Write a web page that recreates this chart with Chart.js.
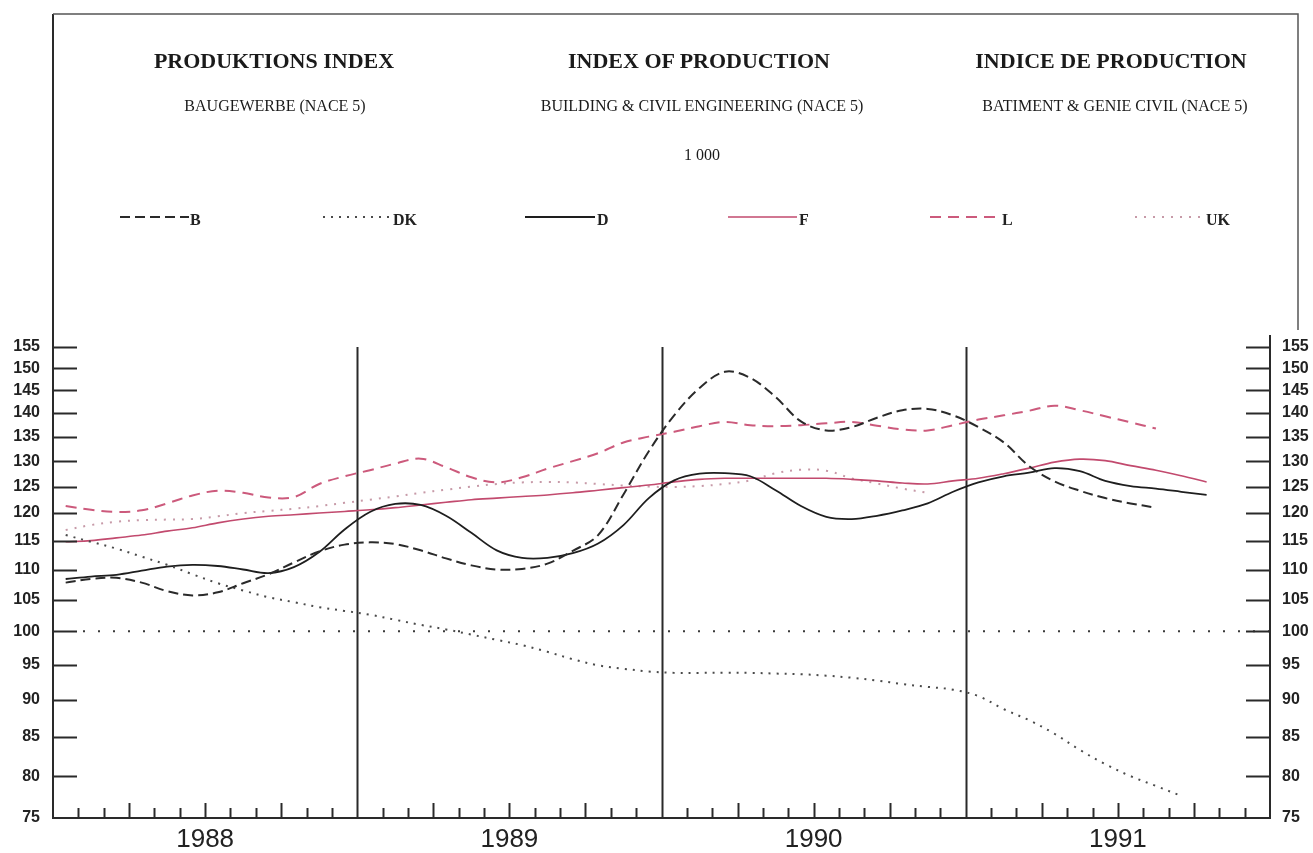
<!DOCTYPE html>
<html>
<head>
<meta charset="utf-8">
<script src="https://cdn.jsdelivr.net/npm/chart.js@4.4.1/dist/chart.umd.min.js"></script>
<style>
html,body{margin:0;padding:0;background:#fff;}
#wrap{position:relative;width:1313px;height:853px;overflow:hidden;background:#fff;}
#c{position:absolute;left:0;top:0;}
.t{position:absolute;width:600px;text-align:center;white-space:nowrap;color:#1a1a1a;}
.title{font-family:"Liberation Serif",serif;font-weight:bold;font-size:22px;line-height:22px;}
.sub{font-family:"Liberation Serif",serif;font-size:16px;line-height:16px;}
.leg{position:absolute;font-family:"Liberation Serif",serif;font-weight:bold;font-size:16px;line-height:16px;color:#222;white-space:nowrap;}
</style>
</head>
<body>
<div id="wrap">
<canvas id="c" width="1313" height="853"></canvas>
<div class="t title" style="left:-26px;top:50px;">PRODUKTIONS INDEX</div>
<div class="t title" style="left:399px;top:50px;">INDEX OF PRODUCTION</div>
<div class="t title" style="left:811px;top:50px;">INDICE DE PRODUCTION</div>
<div class="t sub" style="left:-25px;top:98px;">BAUGEWERBE (NACE 5)</div>
<div class="t sub" style="left:402px;top:98px;">BUILDING &amp; CIVIL ENGINEERING (NACE 5)</div>
<div class="t sub" style="left:815px;top:98px;">BATIMENT &amp; GENIE CIVIL (NACE 5)</div>
<div class="t sub" style="left:402px;top:147px;">1 000</div>
<div id="legend"></div>
</div>
<script>
// ---- data (monthly, Jan 1988 .. Dec 1991) ----
const YEARS = ['1988', '1989', '1990', '1991'];
const Y_TICKS = [75, 80, 85, 90, 95, 100, 105, 110, 115, 120, 125, 130, 135, 140, 145, 150, 155];
const SERIES_NAMES = ['B', 'DK', 'D', 'F', 'L', 'UK'];

const B_VALUES = [107.8, 108.4, 108.6, 107.8, 106.4, 105.7, 106.2, 107.7, 109.2, 111.2, 113.1, 114.3,
  114.7, 114.4, 113.3, 111.9, 110.7, 110.0, 110.1, 111.0, 113.2, 116.0, 123.5, 132.0,
  139.5, 145.5, 149.2, 147.8, 143.5, 138.2, 136.3, 137.0, 139.0, 140.6, 140.9, 139.5,
  137.0, 133.8, 129.0, 126.0, 124.2, 122.8, 121.8, 121.0];

const DK_VALUES = [116.0, 114.8, 113.6, 112.2, 110.8, 109.2, 107.7, 106.5, 105.4, 104.6, 103.8, 103.2,
  102.6, 101.8, 101.0, 100.3, 99.5, 98.7, 97.9, 96.9, 95.8, 94.9, 94.4, 94.0,
  93.8, 93.8, 93.8, 93.8, 93.7, 93.6, 93.4, 93.1, 92.7, 92.2, 91.8, 91.4,
  90.5, 88.7, 87.2, 85.4, 83.3, 81.5, 80.0, 78.8, 77.6];

const D_VALUES = [108.4, 108.8, 109.1, 109.8, 110.5, 110.8, 110.6, 110.0, 109.4, 110.4, 113.0, 117.0,
  120.2, 121.7, 121.5, 119.5, 116.4, 113.3, 112.0, 112.0, 112.8, 114.5, 117.8, 122.8,
  126.2, 127.5, 127.6, 127.0, 124.3, 121.3, 119.3, 118.9, 119.5, 120.5, 121.8, 124.0,
  125.8, 127.0, 127.7, 128.6, 128.0, 126.1, 125.1, 124.6, 124.0, 123.4];

const F_VALUES = [114.8, 115.0, 115.5, 116.0, 116.7, 117.3, 118.2, 118.9, 119.4, 119.7, 120.0, 120.3,
  120.6, 121.0, 121.5, 122.0, 122.5, 122.8, 123.1, 123.4, 123.8, 124.3, 124.8, 125.3,
  125.9, 126.4, 126.6, 126.6, 126.6, 126.6, 126.6, 126.4, 126.1, 125.7, 125.5, 126.1,
  126.6, 127.5, 128.6, 129.8, 130.4, 130.1, 129.1, 128.2, 127.1, 125.9];

const L_VALUES = [121.3, 120.6, 120.2, 120.5, 121.8, 123.3, 124.2, 123.8, 122.9, 123.0, 125.5, 127.0,
  128.2, 129.5, 130.5, 128.8, 126.8, 125.8, 126.8, 128.5, 130.0, 131.6, 133.8, 135.0,
  136.0, 137.2, 138.1, 137.4, 137.2, 137.4, 137.8, 138.1, 137.3, 136.5, 136.3, 137.4,
  138.6, 139.5, 140.5, 141.6, 140.6, 139.3, 138.0, 136.7];

const UK_VALUES = [116.9, 117.8, 118.4, 118.7, 118.8, 118.9, 119.4, 120.0, 120.4, 120.8, 121.3, 121.9,
  122.5, 123.1, 123.8, 124.4, 125.0, 125.5, 125.8, 125.9, 125.8, 125.5, 125.2, 125.0,
  124.9, 125.1, 125.5, 126.2, 127.6, 128.3, 128.1, 126.6, 125.6, 124.6, 123.8];

const REFERENCE_VALUE = 100;

// ---- helpers ----
const toPoints = arr => arr.map((v, i) => ({ x: i + 0.5, y: v }));

const STYLES = {
  B:  { color: '#2a2a2a', width: 2,   dash: [10, 5] },
  DK: { color: '#4a4a4a', width: 2,   dash: [2, 6] },
  D:  { color: '#1e1e1e', width: 1.8, dash: [] },
  F:  { color: '#c24a6e', width: 1.6, dash: [] },
  L:  { color: '#cc5a7c', width: 2,   dash: [11, 7] },
  UK: { color: '#c79aa8', width: 2,   dash: [2, 7] }
};
const SERIES_VALUES = { B: B_VALUES, DK: DK_VALUES, D: D_VALUES, F: F_VALUES, L: L_VALUES, UK: UK_VALUES };

const datasets = SERIES_NAMES.map(name => ({
  label: name,
  data: toPoints(SERIES_VALUES[name]),
  borderColor: STYLES[name].color,
  borderWidth: STYLES[name].width,
  borderDash: STYLES[name].dash,
  fill: false,
  pointRadius: 0,
  tension: 0.35,
  yAxisID: 'y'
}));

// legend layout (sample line start/end, label x)
const LEGEND_LAYOUT = [
  { x1: 120, x2: 189, lx: 190 },
  { x1: 323, x2: 391, lx: 393 },
  { x1: 525, x2: 595, lx: 597 },
  { x1: 728, x2: 797, lx: 799 },
  { x1: 930, x2: 1000, lx: 1002 },
  { x1: 1135, x2: 1204, lx: 1206 }
];
const LEGEND_Y = 217;

const legendDiv = document.getElementById('legend');
SERIES_NAMES.forEach((n, i) => {
  const s = document.createElement('div');
  s.className = 'leg';
  s.style.left = LEGEND_LAYOUT[i].lx + 'px';
  s.style.top = (LEGEND_Y - 5) + 'px';
  s.textContent = n;
  legendDiv.appendChild(s);
});

const framePlugin = {
  id: 'framePlugin',
  beforeDatasetsDraw(chart) {
    const { ctx, chartArea: a, scales } = chart;
    const y = scales.y, x = scales.x;
    ctx.save();
    // 100 reference dotted line
    const y100 = y.getPixelForValue(REFERENCE_VALUE);
    ctx.strokeStyle = '#3a3a3a';
    ctx.lineWidth = 2;
    ctx.setLineDash([2, 13]);
    ctx.beginPath();
    ctx.moveTo(a.left + 30, y100);
    ctx.lineTo(a.right, y100);
    ctx.stroke();
    ctx.setLineDash([]);
    // year separators
    ctx.strokeStyle = '#2a2a2a';
    ctx.lineWidth = 2;
    [12, 24, 36].forEach(m => {
      const px = Math.round(x.getPixelForValue(m)) + 0.5;
      ctx.beginPath();
      ctx.moveTo(px, a.top);
      ctx.lineTo(px, a.bottom);
      ctx.stroke();
    });
    ctx.restore();
  },
  afterDraw(chart) {
    const { ctx, chartArea: a, scales } = chart;
    const y = scales.y, x = scales.x;
    ctx.save();
    ctx.strokeStyle = '#2a2a2a';
    ctx.lineWidth = 2;
    // frame / axes
    ctx.beginPath();
    ctx.moveTo(a.left, 14);
    ctx.lineTo(a.left, a.bottom);
    ctx.lineTo(a.right, a.bottom);
    ctx.lineTo(a.right, 335);
    ctx.stroke();
    ctx.lineWidth = 1.5;
    ctx.strokeStyle = '#555';
    ctx.beginPath();
    ctx.moveTo(a.left, 14);
    ctx.lineTo(1298, 14);
    ctx.lineTo(1298, 330);
    ctx.stroke();
    // y ticks (inward)
    ctx.strokeStyle = '#2a2a2a';
    ctx.lineWidth = 2;
    Y_TICKS.forEach(v => {
      if (v === 75) return;
      const py = Math.round(y.getPixelForValue(v)) + 0.5;
      ctx.beginPath();
      ctx.moveTo(a.left, py); ctx.lineTo(a.left + 24, py);
      ctx.moveTo(a.right - 24, py); ctx.lineTo(a.right, py);
      ctx.stroke();
    });
    // month ticks (inward)
    for (let m = 1; m < 48; m++) {
      if (m % 12 === 0) continue;
      const px = Math.round(x.getPixelForValue(m)) + 0.5;
      const len = (m % 3 === 0) ? 15 : 10;
      ctx.beginPath();
      ctx.moveTo(px, a.bottom); ctx.lineTo(px, a.bottom - len);
      ctx.stroke();
    }
    // legend samples
    chart.data.datasets.forEach((ds, i) => {
      const L = LEGEND_LAYOUT[i];
      ctx.strokeStyle = ds.borderColor;
      ctx.lineWidth = ds.borderWidth;
      ctx.setLineDash(ds.borderDash || []);
      ctx.beginPath();
      ctx.moveTo(L.x1, LEGEND_Y); ctx.lineTo(L.x2, LEGEND_Y);
      ctx.stroke();
    });
    ctx.restore();
  }
};

const tickFont = { family: 'Liberation Sans', size: 16, weight: 'bold' };

new Chart(document.getElementById('c'), {
  type: 'line',
  data: { datasets },
  options: {
    responsive: false,
    animation: false,
    devicePixelRatio: 1,
    layout: { padding: { top: 347, left: 0, right: 0, bottom: 0 } },
    plugins: { legend: { display: false }, tooltip: { enabled: false }, title: { display: false } },
    scales: {
      x: {
        type: 'linear', min: 0, max: 48,
        afterBuildTicks(s) { s.ticks = [6, 18, 30, 42].map(v => ({ value: v })); },
        afterFit(s) { s.height = 35; },
        grid: { display: false, drawTicks: false },
        border: { display: false },
        ticks: {
          autoSkip: false, maxRotation: 0, padding: 6, color: '#222',
          font: { family: 'Liberation Sans', size: 26 },
          callback: v => YEARS[Math.round((v - 6) / 12)]
        }
      },
      y: {
        type: 'logarithmic', position: 'left', min: 75, max: 155,
        afterBuildTicks(s) { s.ticks = Y_TICKS.map(v => ({ value: v })); },
        afterFit(s) { s.width = 53; },
        grid: { display: false, drawTicks: false },
        border: { display: false },
        ticks: { padding: 13, color: '#222', font: tickFont, callback: v => String(v) }
      },
      y2: {
        type: 'logarithmic', position: 'right', min: 75, max: 155,
        afterBuildTicks(s) { s.ticks = Y_TICKS.map(v => ({ value: v })); },
        afterFit(s) { s.width = 43; },
        grid: { display: false, drawTicks: false },
        border: { display: false },
        ticks: { padding: 12, color: '#222', font: tickFont, callback: v => String(v) }
      }
    }
  },
  plugins: [framePlugin]
});
</script>
</body>
</html>
